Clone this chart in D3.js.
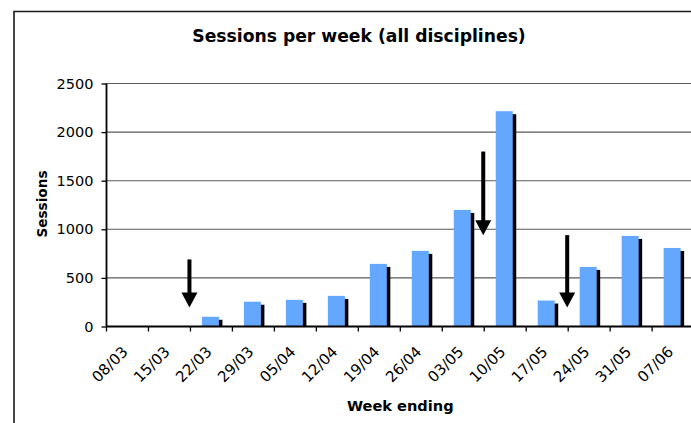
<!DOCTYPE html>
<html>
<head>
<meta charset="utf-8">
<script src="https://cdn.jsdelivr.net/npm/d3@7"></script>
<style>
  html, body { margin: 0; padding: 0; background: #fff; overflow: hidden; }
  svg { display: block; }
  text { font-family: "DejaVu Sans", Verdana, sans-serif; fill: #000; }
</style>
</head>
<body>
<svg id="chart" width="691" height="423"></svg>
<script>
// ---- data ----
const categories = ["08/03","15/03","22/03","29/03","05/04","12/04","19/04","26/04","03/05","10/05","17/05","24/05","31/05","07/06"];
const sessions   = [0, 0, 100, 255, 274, 315, 644, 778, 1199, 2215, 267, 613, 932, 808];
const yTickValues = [0, 500, 1000, 1500, 2000, 2500];
// annotation arrows: drawn at the left edge of the named week, from value -> to value
const arrowWeeks = ["22/03", "10/05", "24/05"];
const arrowFrom  = [690, 1800, 940];
const arrowTo    = [195, 940, 195];

const titleText = "Sessions per week (all disciplines)";
const yTitle = "Sessions";
const xTitle = "Week ending";

// ---- layout ----
const svg = d3.select("#chart");
const plotLeft = 106.5, plotRight = 694.1, plotTop = 83.5, plotBottom = 326.5;

const x = d3.scaleBand().domain(categories).range([plotLeft, plotRight]).paddingInner(0).paddingOuter(0);
const y = d3.scaleLinear().domain([0, 2500]).range([plotBottom, plotTop]);
const barW = 17, barOff = 11.5, shadowDx = 3.5, shadowDy = 3;

// outer frame (only top and left edges fall inside the picture)
svg.append("path").attr("d", "M14,440V11.5H720")
  .attr("fill", "none").attr("stroke", "#1a1a1a").attr("stroke-width", 1.6);

// title
svg.append("text").attr("x", 359).attr("y", 41.5).attr("text-anchor", "middle")
  .attr("font-size", "17.2px").attr("font-weight", "bold").text(titleText);

// gridlines
svg.append("g").selectAll("line").data(yTickValues.filter(v => v > 0)).join("line")
  .attr("x1", plotLeft).attr("x2", plotRight)
  .attr("y1", d => y(d)).attr("y2", d => y(d))
  .attr("stroke", "#5a5a5a").attr("stroke-width", 1.1);

// bars: shadow then blue
const barData = categories.map((c, i) => ({c, v: sessions[i]})).filter(d => d.v > 0);
const bars = svg.append("g");
bars.selectAll("rect.shadow").data(barData).join("rect")
  .attr("class", "shadow")
  .attr("x", d => x(d.c) + barOff + shadowDx)
  .attr("y", d => Math.min(y(d.v) + shadowDy, plotBottom))
  .attr("width", barW)
  .attr("height", d => Math.max(0, plotBottom - (y(d.v) + shadowDy)))
  .attr("fill", "#000");
bars.selectAll("rect.bar").data(barData).join("rect")
  .attr("class", "bar")
  .attr("x", d => x(d.c) + barOff)
  .attr("y", d => y(d.v))
  .attr("width", barW)
  .attr("height", d => plotBottom - y(d.v))
  .attr("fill", "#63a7fe");

// y axis
const yAxis = svg.append("g").attr("transform", `translate(${plotLeft},0)`)
  .call(d3.axisLeft(y).tickValues(yTickValues).tickSize(5).tickPadding(8).tickFormat(d3.format("d")));
yAxis.select(".domain").attr("stroke", "#000").attr("stroke-width", 1.8).attr("d", `M0,${plotTop}V${plotBottom}`);
yAxis.selectAll(".tick line").attr("stroke", "#000").attr("stroke-width", 1.3);
yAxis.selectAll(".tick text").attr("font-size", "14.5px").attr("font-family", "DejaVu Sans, Verdana, sans-serif").attr("fill", "#000");

// x axis (ticks at category boundaries)
const xg = svg.append("g");
xg.append("line").attr("x1", plotLeft).attr("x2", plotRight).attr("y1", plotBottom).attr("y2", plotBottom)
  .attr("stroke", "#000").attr("stroke-width", 2);
xg.selectAll("line.tk").data(categories).join("line").attr("class", "tk")
  .attr("x1", d => x(d)).attr("x2", d => x(d))
  .attr("y1", plotBottom).attr("y2", plotBottom + 5)
  .attr("stroke", "#000").attr("stroke-width", 1.3);
xg.selectAll("text").data(categories).join("text")
  .attr("transform", d => `translate(${x(d) + x.bandwidth() / 2 - 2.5},349) rotate(-45)`)
  .attr("text-anchor", "end").attr("dy", "0.35em").attr("font-size", "15px")
  .text(d => d);

// axis titles
svg.append("text").attr("transform", "translate(46.5,204) rotate(-90)")
  .attr("text-anchor", "middle").attr("font-size", "13.6px").attr("font-weight", "bold").text(yTitle);
svg.append("text").attr("x", (plotLeft + plotRight) / 2).attr("y", 410.5)
  .attr("text-anchor", "middle").attr("font-size", "14.6px").attr("font-weight", "bold").text(xTitle);

// arrows
const ag = svg.append("g");
arrowWeeks.forEach((w, i) => {
  const ax = x(w) - 1;
  const y0 = y(arrowFrom[i]), yTip = y(arrowTo[i]);
  const headLen = 15, headHalf = 8;
  ag.append("line").attr("x1", ax).attr("x2", ax).attr("y1", y0).attr("y2", yTip - headLen + 1)
    .attr("stroke", "#000").attr("stroke-width", 4);
  ag.append("path").attr("d", `M${ax - headHalf},${yTip - headLen}L${ax + headHalf},${yTip - headLen}L${ax},${yTip}Z`)
    .attr("fill", "#000");
});
</script>
</body>
</html>
